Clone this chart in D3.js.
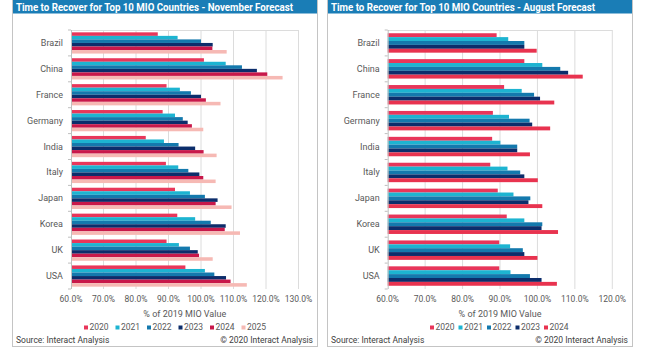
<!DOCTYPE html>
<html>
<head>
<meta charset="utf-8">
<script src="https://cdn.jsdelivr.net/npm/d3@7"></script>
<style>
  body { margin: 0; background: #fff; }
  svg { display: block; font-family: "Roboto", "Liberation Sans", sans-serif; }
</style>
</head>
<body>
<svg id="chart" width="645" height="350"></svg>
<script>
// categories
const countries = ["Brazil", "China", "France", "Germany", "India", "Italy", "Japan", "Korea", "UK", "USA"];

// November forecast (% of 2019 MIO value)
const novYears = ["2020", "2021", "2022", "2023", "2024", "2025"];
const nov2020 = [86.7, 100.9, 89.4, 88.2, 83.0, 89.2, 92.0, 92.7, 89.4, 95.2];
const nov2021 = [92.8, 107.6, 93.5, 92.0, 88.6, 93.0, 96.6, 98.2, 93.2, 101.2];
const nov2022 = [100.0, 112.6, 96.9, 94.4, 93.1, 96.1, 101.2, 103.0, 96.6, 104.1];
const nov2023 = [103.6, 117.2, 100.0, 95.9, 98.2, 99.5, 105.1, 107.6, 99.0, 107.7];
const nov2024 = [103.5, 120.4, 101.5, 97.2, 100.8, 100.7, 104.5, 107.3, 99.4, 109.1];
const nov2025 = [107.9, 125.1, 106.0, 100.7, 104.8, 104.5, 109.4, 112.0, 103.6, 114.1];

// August forecast
const augYears = ["2020", "2021", "2022", "2023", "2024"];
const aug2020 = [89.1, 96.5, 91.1, 88.1, 87.9, 87.4, 89.4, 91.8, 89.8, 89.8];
const aug2021 = [92.2, 101.3, 95.8, 92.4, 90.1, 92.0, 93.6, 96.5, 92.7, 92.8];
const aug2022 = [96.5, 106.1, 99.1, 97.9, 94.6, 95.4, 98.1, 101.3, 96.1, 98.0];
const aug2023 = [96.5, 108.2, 100.7, 98.6, 94.6, 96.5, 97.6, 101.1, 96.5, 101.1];
const aug2024 = [99.8, 112.1, 104.5, 103.4, 98.0, 100.1, 101.3, 105.5, 100.0, 105.2];

const novTicks = [60, 70, 80, 90, 100, 110, 120, 130];
const augTicks = [60, 70, 80, 90, 100, 110, 120];

const svg = d3.select("#chart");
svg.append("rect").attr("width", 645).attr("height", 350).attr("fill", "#fff");

function panel(opts) {
  const g = svg.append("g");
  const { x0, x1, title, titleW, years, series, colors, ticks, plotL, plotR, padIn, padOut, legendX, legendStep } = opts;

  // frame + title bar
  g.append("rect")
    .attr("x", x0 + 0.5).attr("y", 0.5)
    .attr("width", x1 - x0).attr("height", 346)
    .attr("fill", "#fff").attr("stroke", "#c4c4c4");
  g.append("rect")
    .attr("x", x0 + 1).attr("y", 0)
    .attr("width", x1 - x0 - 1).attr("height", 13.5)
    .attr("fill", "#1a7db6");
  g.append("text")
    .attr("x", x0 + 4).attr("y", 10.5)
    .attr("fill", "#fff")
    .attr("font-size", 10.5).attr("font-weight", "bold")
    .attr("textLength", titleW)
    .attr("lengthAdjust", "spacingAndGlyphs")
    .text(title);

  const x = d3.scaleLinear()
    .domain([d3.min(ticks), d3.max(ticks)])
    .range([plotL, plotR]);

  const y0 = d3.scaleBand()
    .domain(countries)
    .range([30, 289])
    .paddingInner(padIn)
    .paddingOuter(padOut);

  const y1 = d3.scaleBand()
    .domain(years)
    .range([0, y0.bandwidth()]);

  // grid
  g.append("g").selectAll("line")
    .data(ticks.slice(1))
    .join("line")
    .attr("x1", d => x(d)).attr("x2", d => x(d))
    .attr("y1", 30).attr("y2", 289)
    .attr("stroke", "#dcdcdc");
  g.append("line")
    .attr("x1", plotL).attr("x2", plotR)
    .attr("y1", 30.5).attr("y2", 30.5)
    .attr("stroke", "#dcdcdc");

  // bars
  const rows = countries.map((c, i) => ({ c, vals: years.map((yr, k) => ({ yr, v: series[k][i] })) }));
  g.append("g").selectAll("g")
    .data(rows)
    .join("g")
    .attr("transform", d => `translate(0,${y0(d.c)})`)
    .selectAll("rect")
    .data(d => d.vals)
    .join("rect")
    .attr("x", x(60))
    .attr("y", d => y1(d.yr))
    .attr("width", d => x(d.v) - x(60))
    .attr("height", y1.bandwidth())
    .attr("fill", (d, k) => colors[k]);

  // y axis with category boundary ticks
  g.append("line")
    .attr("x1", plotL + 0.5).attr("x2", plotL + 0.5)
    .attr("y1", 30).attr("y2", 289)
    .attr("stroke", "#bfbfbf");
  const step = (289 - 30) / countries.length;
  g.append("g").selectAll("line")
    .data(d3.range(countries.length + 1))
    .join("line")
    .attr("x1", plotL - 3).attr("x2", plotL)
    .attr("y1", i => 30 + i * step).attr("y2", i => 30 + i * step)
    .attr("stroke", "#bfbfbf");

  g.append("g").selectAll("text")
    .data(countries)
    .join("text")
    .attr("x", plotL - 8)
    .attr("y", d => y0(d) + y0.bandwidth() / 2 + 3)
    .attr("text-anchor", "end")
    .attr("font-size", 9)
    .attr("fill", "#595959")
    .text(d => d);

  // x tick labels
  g.append("g").selectAll("text")
    .data(ticks)
    .join("text")
    .attr("x", d => x(d))
    .attr("y", 302)
    .attr("text-anchor", "middle")
    .attr("font-size", 8.5)
    .attr("fill", "#595959")
    .text(d => d3.format(".1f")(d) + "%");

  g.append("text")
    .attr("x", (plotL + plotR) / 2).attr("y", 317)
    .attr("text-anchor", "middle")
    .attr("font-size", 9)
    .attr("fill", "#595959")
    .text("% of 2019 MIO Value");

  // legend
  const leg = g.append("g").selectAll("g")
    .data(years)
    .join("g")
    .attr("transform", (d, i) => `translate(${legendX + i * legendStep},330)`);
  leg.append("rect")
    .attr("x", 0).attr("y", -4.5)
    .attr("width", 4).attr("height", 4)
    .attr("fill", (d, i) => colors[i]);
  leg.append("text")
    .attr("x", 5.5).attr("y", 0)
    .attr("font-size", 8.5)
    .attr("fill", "#595959")
    .text(d => d);

  g.append("text")
    .attr("x", x0 + 4).attr("y", 343)
    .attr("font-size", 8.5)
    .attr("fill", "#404040")
    .text("Source: Interact Analysis");
  g.append("text")
    .attr("x", x1 - 4).attr("y", 343)
    .attr("text-anchor", "end")
    .attr("font-size", 8.5)
    .attr("fill", "#404040")
    .text("© 2020 Interact Analysis");
}

panel({
  x0: 12, x1: 317,
  title: "Time to Recover for Top 10 MIO Countries - November Forecast",
  titleW: 277,
  years: novYears,
  series: [nov2020, nov2021, nov2022, nov2023, nov2024, nov2025],
  colors: ["#e8365a", "#1db4d1", "#1479ad", "#0c2d6b", "#c8184a", "#f6b9b4"],
  ticks: novTicks,
  plotL: 71, plotR: 298.5,
  padIn: 0.18, padOut: 0.09,
  legendX: 84, legendStep: 31.5
});

panel({
  x0: 327, x1: 632,
  title: "Time to Recover for Top 10 MIO Countries - August Forecast",
  titleW: 264,
  years: augYears,
  series: [aug2020, aug2021, aug2022, aug2023, aug2024],
  colors: ["#e8365a", "#1db4d1", "#1479ad", "#0c2d6b", "#e8334f"],
  ticks: augTicks,
  plotL: 387.7, plotR: 612.3,
  padIn: 0.25, padOut: 0.125,
  legendX: 430, legendStep: 28.5
});
</script>
</body>
</html>
